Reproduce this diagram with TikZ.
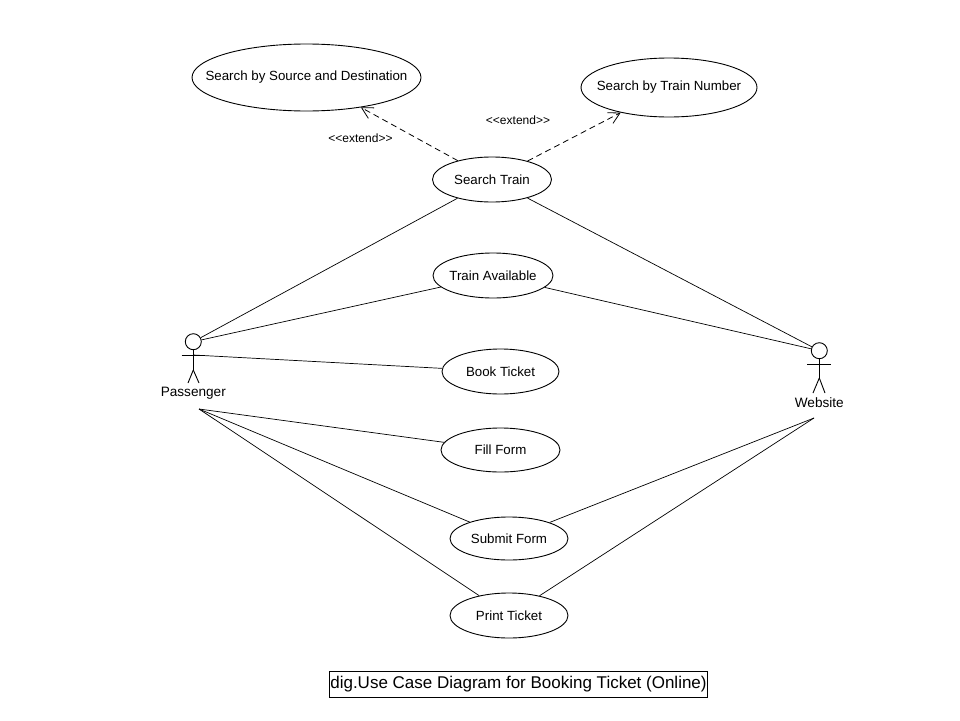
\documentclass[tikz,border=0pt]{standalone}
\usepackage{fontspec}
\setmainfont{Liberation Sans}
\usetikzlibrary{shapes.geometric,arrows.meta}
\newcommand{\stereo}[1]{<\kern0pt<#1>\kern0pt>}
\begin{document}
\begin{tikzpicture}[x=1pt,y=-1pt,
  uc/.style={draw, ellipse, line width=0.9pt, inner sep=0pt},
  uctext/.style={font=\fontsize{13.3}{16}\selectfont},
  conn/.style={line width=0.7pt},
  ext/.style={line width=0.8pt, dash pattern=on 6pt off 4pt, -{Straight Barb[length=11pt,width=12pt]}},
  extlabel/.style={font=\fontsize{12}{14}\selectfont},
  actorline/.style={line width=0.9pt},
  head/.style={draw, circle, line width=0.9pt, minimum size=16pt, inner sep=0pt},
  actorname/.style={font=\fontsize{13.6}{16}\selectfont}
]
\useasboundingbox (0,0) rectangle (960,720);
\fill[white] (0,0) rectangle (960,720);

% use cases
\node[uc, minimum width=229pt, minimum height=67pt, label={[uctext]center:Search by Source and Destination}] (ssd) at (306.5,77.5) {};
\node[uc, minimum width=176pt, minimum height=59pt, label={[uctext]center:Search by Train Number}] (stn) at (669,87.5) {};
\node[uc, minimum width=119pt, minimum height=45pt, label={[uctext]center:Search Train}] (st) at (492,179.5) {};
\node[uc, minimum width=120pt, minimum height=45pt, label={[uctext]center:Train Available}] (ta) at (493,275.5) {};
\node[uc, minimum width=117pt, minimum height=45pt, label={[uctext]center:Book Ticket}] (bt) at (500.5,371.5) {};
\node[uc, minimum width=119pt, minimum height=44pt, label={[uctext]center:Fill Form}] (ff) at (500.5,450) {};
\node[uc, minimum width=118pt, minimum height=43pt, label={[uctext]center:Submit Form}] (sf) at (509,538.5) {};
\node[uc, minimum width=118pt, minimum height=45pt, label={[uctext]center:Print Ticket}] (pt) at (509,615.5) {};

% Passenger actor
\node[head] (ph) at (193.3,341.7) {};
\coordinate (pneck) at (193.3,349.7);
\coordinate (parm) at (193.3,355);
\coordinate (phip) at (193.3,370);
\coordinate (pbot) at (199,409);
\draw[actorline] (pneck) -- (phip);
\draw[actorline] (181.5,355) -- (205,355);
\draw[actorline] (phip) -- (188,383);
\draw[actorline] (phip) -- (199,383);
\node[actorname] (plabel) at (193.3,393.5) {Passenger};

% Website actor
\node[head] (wh) at (819.3,350.7) {};
\coordinate (wneck) at (819.3,358.7);
\coordinate (whip) at (819.3,378);
\coordinate (wbot) at (814,418);
\draw[actorline] (wneck) -- (whip);
\draw[actorline] (807,364) -- (831,364);
\draw[actorline] (whip) -- (813,393);
\draw[actorline] (whip) -- (825,393);
\node[actorname] (wlabel) at (819.3,402.5) {Website};

% associations
\draw[conn] (ph) -- (st);
\draw[conn] (ph) -- (ta);
\draw[conn] (parm) -- (bt);
\draw[conn] (pbot) -- (ff);
\draw[conn] (pbot) -- (sf);
\draw[conn] (pbot) -- (pt);
\draw[conn] (wh) -- (st);
\draw[conn] (wh) -- (ta);
\draw[conn] (wbot) -- (sf);
\draw[conn] (wbot) -- (pt);

% extends
\draw[ext] (st) -- (ssd);
\draw[ext] (st) -- (stn);
\node[extlabel] (e1) at (360.5,138) {\stereo{extend}};
\node[extlabel] (e2) at (518,120) {\stereo{extend}};

% caption
\node[draw, line width=0.8pt, inner xsep=1pt, inner ysep=0pt, minimum height=26pt,
      font=\fontsize{17}{20}\selectfont] (cap) at (518.5,684) {dig.Use Case Diagram for Booking Ticket (Online)};
\end{tikzpicture}
\end{document}
